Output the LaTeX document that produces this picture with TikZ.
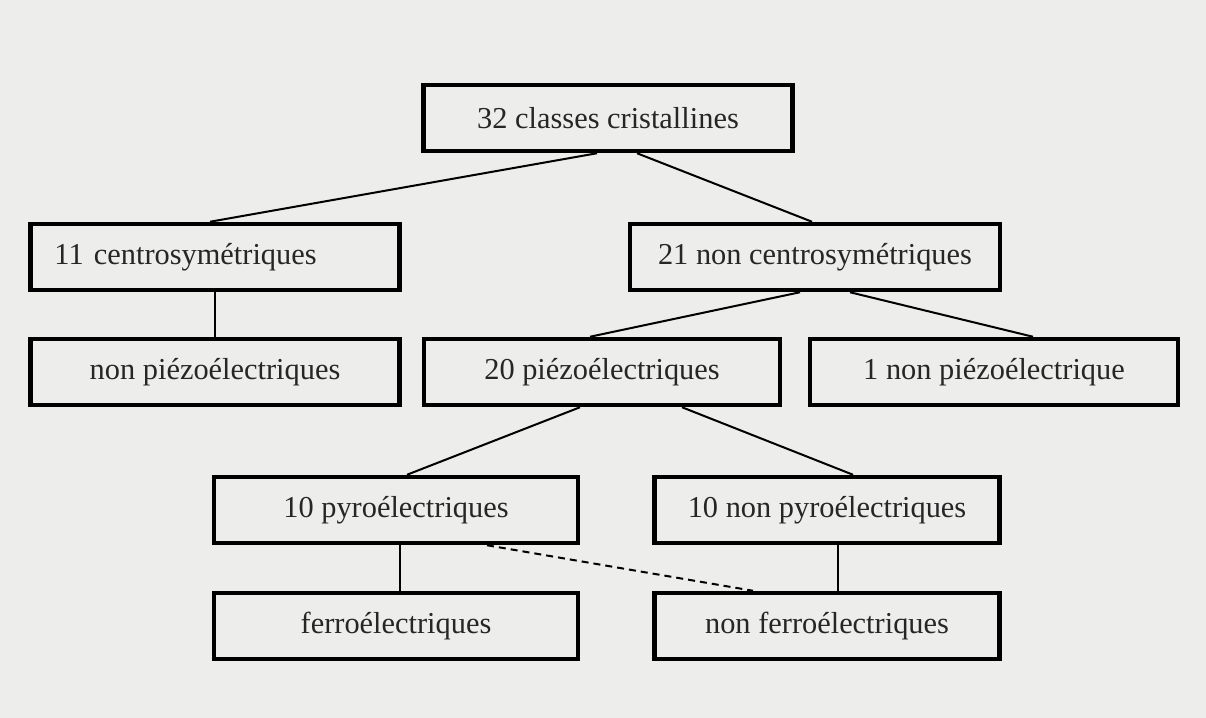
\documentclass[tikz,border=0pt]{standalone}
\usepackage{fontspec}
\setmainfont{Liberation Serif}
\definecolor{paper}{RGB}{237,237,236}

\begin{document}
\begin{tikzpicture}[x=1bp,y=-1bp,
  classbox/.style={draw,line width=4.5bp,minimum height=66bp,inner sep=0pt,
    text=black!85,font=\fontsize{30.5}{36}\selectfont},
  link/.style={line width=2bp},
  stem/.style={line width=1.3bp}]
\fill[paper] (0,0) rectangle (1206,718);
\useasboundingbox (0,0) rectangle (1206,718);
% the classes, row by row
\foreach \nm/\cx/\cy/\w/\lab in {%
  top/608/118/369/{32 classes cristallines},%
  noncentro/815/257/370/{21 non centrosymétriques},%
  nonpiezo/215/372/369/{non piézoélectriques},%
  piezo/602/372/356/{20 piézoélectriques},%
  onenonpiezo/994/372/368/{1 non piézoélectrique},%
  pyro/396/510/364/{10 pyroélectriques},%
  nonpyro/827/510/345/{10 non pyroélectriques},%
  ferro/396/626/364/{ferroélectriques},%
  nonferro/827/626/345/{non ferroélectriques}}{
  \node[classbox,minimum width=\w bp] (\nm) at (\cx,\cy) {\lab};
}
\node[classbox,text width=321bp,inner xsep=24bp,align=left] (centro) at (215,257) {11 centrosymétriques};
% branches
\foreach \a/\sa/\b/\sb in {top/-11/centro/-5,top/29/noncentro/-3,%
  noncentro/-15/piezo/-12,noncentro/35/onenonpiezo/39,%
  piezo/-22/pyro/11,piezo/80/nonpyro/26}{
  \draw[link] ([xshift=\sa bp]\a.south) -- ([xshift=\sb bp]\b.north);
}
\draw[stem] (centro.south) -- (nonpiezo.north);
\draw[stem] ([xshift=4bp]pyro.south) -- ([xshift=4bp]ferro.north);
\draw[stem] ([xshift=11bp]nonpyro.south) -- ([xshift=11bp]nonferro.north);
\draw[link,dash pattern=on 7bp off 5bp] ([xshift=91bp]pyro.south) -- ([xshift=-74bp]nonferro.north);
\end{tikzpicture}
\end{document}
